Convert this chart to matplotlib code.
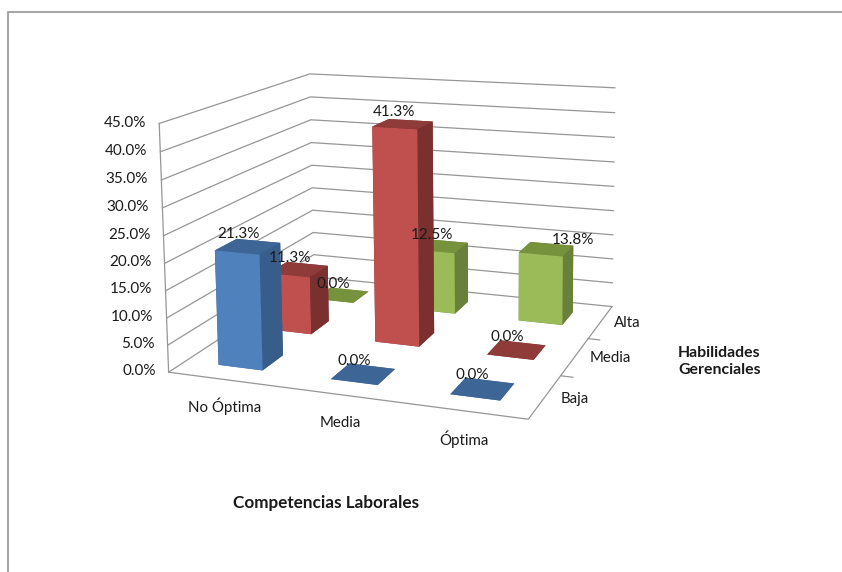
import matplotlib
matplotlib.use('Agg')
import matplotlib.pyplot as plt
from matplotlib.lines import Line2D
from mpl_toolkits.mplot3d import proj3d
import numpy as np

# datos de la tabla cruzada, en porcentaje
competencias = ['No Óptima', 'Media', 'Óptima']
habilidades = ['Baja', 'Media', 'Alta']
baja = [21.3, 0.0, 0.0]
media = [11.3, 41.3, 0.0]
alta = [0.0, 12.5, 13.8]
z_ticks = [0, 5, 10, 15, 20, 25, 30, 35, 40, 45]

# cara frontal, lateral y superior de cada serie
BLUE = ('#4f81bd', '#385d8a', '#3d6595')
RED = ('#c0504d', '#7a302e', '#8f3b39')
GREEN = ('#9bbb59', '#68803a', '#76923c')

W, H = 842, 572
GRID = '#969696'
TEXT = '#1a1a1a'

# esquinas de la caja 3D (x, y, z) y donde caen en la figura, en pixeles
box_points = [(0, 0, 0), (3, 0, 0), (3, 3, 0), (0, 3, 0),
              (0, 0, 45), (0, 3, 45), (3, 3, 45)]
box_pixels = [(170, 372), (527, 421), (613, 304), (313, 278),
              (159, 122), (310, 74), (615, 89)]


# proyeccion en perspectiva ajustada a las esquinas de la caja
def box_projection():
    rows = []
    for (x, y, z), (u, v) in zip(box_points, box_pixels):
        rows.append([x, y, z, 1, 0, 0, 0, 0, -u*x, -u*y, -u*z, -u])
        rows.append([0, 0, 0, 0, x, y, z, 1, -v*x, -v*y, -v*z, -v])
    p = np.linalg.svd(np.array(rows, dtype=float))[2][-1].reshape(3, 4)
    p = p / p[2, 3]
    return np.array([p[0], p[1], [-1, 1, -0.01, 0], p[2]])


M = box_projection()


def draw_bar(ax, i, j, value, colors, order):
    front, side, top = colors
    # orden de caras en bar3d: abajo, arriba, frente, fondo, izquierda, derecha
    faces = [top, top, front, side, side, side]
    ax.bar3d(i + 0.3, j + 0.3, 0, 0.4, 0.4, value, color=faces, shade=False,
             linewidth=0, zorder=order)


# texto plano colocado en el punto proyectado de la caja
def label(ax, x, y, z, text, **kwargs):
    u, v, _ = proj3d.proj_transform(x, y, z, M)
    ax.text2D(u, v, text, transform=ax.transData, va='center', color=TEXT, **kwargs)


def graph():
    fig = plt.figure(figsize=(W / 100, H / 100), dpi=100, facecolor='white')
    plt.rcParams['font.family'] = ['Lato', 'DejaVu Sans']
    ax = fig.add_axes([0, 0, 1, 1], projection='3d')
    ax.set_axis_off()
    ax.set_xticks([])
    ax.set_yticks([])
    ax.set_zticks([])
    ax.computed_zorder = False
    # con 'ortho' las lineas no se recortan al cubo unitario
    ax.set_proj_type('ortho')
    ax.get_proj = lambda: M
    # el area de dibujo queda cuadrada y centrada en la figura
    ax.viewLim.intervalx = ((W - H) / 2, (W + H) / 2)
    ax.viewLim.intervaly = (H, 0)

    # paredes: lineas de division y bordes
    for z in z_ticks:
        ax.plot([0, 0, 3], [0, 3, 3], [z, z, z], color=GRID, lw=0.9, zorder=1)
        label(ax, -0.12, 0, z, f'{z:.1f}%', ha='right', fontsize=11)
    ax.plot([0, 0], [0, 0], [0, 45], color=GRID, lw=0.9, zorder=1)
    ax.plot([0, 3, 3], [0, 0, 3], [0, 0, 0], color=GRID, lw=0.9, zorder=1)
    for j in [1, 2]:
        ax.plot([3, 3.1], [j, j], [0, 0], color=GRID, lw=0.9, zorder=1)

    # las barras se dibujan de atras hacia adelante
    order = 2
    for j, values, colors in [(2, alta, GREEN), (1, media, RED), (0, baja, BLUE)]:
        for i, value in enumerate(values):
            draw_bar(ax, i, j, value, colors, order)
            # esta etiqueta queda a la derecha de su barra
            dx = 0.24 if value == alta[2] else -0.08
            label(ax, i + 0.5 + dx, j + 0.5, value + 2.2, f'{value:.1f}%', ha='center',
                  fontsize=11, zorder=20)
            order += 1

    for i, name in enumerate(competencias):
        label(ax, i + 0.5, 0, -5, name, ha='center', fontsize=10.8)
    for j, name in enumerate(habilidades):
        label(ax, 3.12, j + 0.5, 0, name, ha='left', fontsize=10.8)

    fig.text(326 / W, 1 - 503 / H, 'Competencias Laborales', ha='center', va='center',
             fontsize=12.3, fontweight='bold', color=TEXT)
    fig.text(678 / W, 1 - 361.5 / H, 'Habilidades\nGerenciales', ha='left', va='center',
             fontsize=11.4, fontweight='bold', color=TEXT, linespacing=1.2)

    # marco exterior del grafico
    fig.add_artist(Line2D([8 / W, 8 / W, 1], [0, 1 - 12 / H, 1 - 12 / H], color='#a6a6a6', lw=1.5))

    fig.savefig('out.png', dpi=100)


graph()
